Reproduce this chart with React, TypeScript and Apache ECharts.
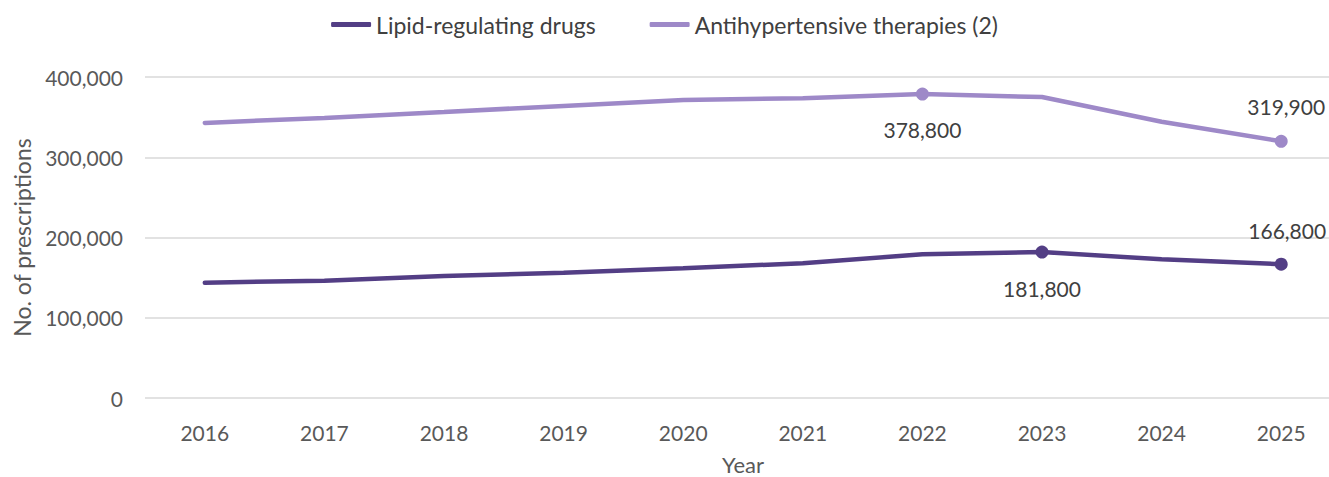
import React, { useEffect, useRef } from "react";
import * as echarts from "echarts";

// Years on the horizontal axis
const years = ["2016", "2017", "2018", "2019", "2020", "2021", "2022", "2023", "2024", "2025"];

// Number of prescriptions per year
const lipidRegulating = [143700, 146200, 152000, 156100, 161600, 168000, 179000, 181800, 172800, 166800];
const antihypertensive = [342800, 349000, 356400, 364000, 371300, 373500, 378800, 375000, 344300, 319900];

// Y-axis ticks
const yTicks = [0, 100000, 200000, 300000, 400000];

// Points that carry a marker and a value label: [index, position, distance, x shift]
const lipidLabelled: [number, string, number, number][] = [
  [7, "bottom", 19, 0],
  [9, "top", 17, 6],
];
const antiLabelled: [number, string, number, number][] = [
  [6, "bottom", 18, 0],
  [9, "top", 18, 5],
];

const FONT = "Lato, 'Open Sans', sans-serif";
const DARK = "#533e85";
const LIGHT = "#9e89c8";

const fmt = (v: number) => v.toLocaleString("en-US");

function buildData(values: number[], labelled: [number, string, number, number][]) {
  return values.map((v, i) => {
    const hit = labelled.find((l) => l[0] === i);
    if (!hit) return { value: v, symbol: "none" };
    return {
      value: v,
      symbol: "circle",
      symbolSize: 13,
      label: {
        show: true,
        position: hit[1],
        distance: hit[2],
        offset: [hit[3], 0],
        formatter: () => fmt(v),
        color: "#404040",
        fontSize: 21,
        fontFamily: FONT,
      },
    };
  });
}

export default function App() {
  const ref = useRef<HTMLDivElement>(null);

  useEffect(() => {
    if (!ref.current) return;
    const chart = echarts.init(ref.current, undefined, { renderer: "svg" });
    chart.setOption({
      animation: false,
      backgroundColor: "#ffffff",
      legend: {
        top: 8,
        left: "center",
        itemWidth: 40,
        itemHeight: 5,
        itemGap: 54,
        icon: "roundRect",
        textStyle: { color: "#404040", fontSize: 23, fontFamily: FONT },
        data: ["Lipid-regulating drugs", "Antihypertensive therapies (2)"],
      },
      grid: {
        left: 145,
        top: 77,
        width: 1196,
        height: 321,
        containLabel: false,
        outerBoundsMode: "none",
      },
      xAxis: {
        type: "category",
        data: years,
        boundaryGap: true,
        name: "Year",
        nameLocation: "middle",
        nameGap: 55,
        nameTextStyle: { color: "#595959", fontSize: 22, fontFamily: FONT },
        axisLine: { show: false },
        axisTick: { show: false },
        axisLabel: { color: "#595959", fontSize: 21, fontFamily: FONT, margin: 24 },
      },
      yAxis: {
        type: "value",
        min: yTicks[0],
        max: yTicks[yTicks.length - 1],
        interval: yTicks[1] - yTicks[0],
        name: "No. of prescriptions",
        nameLocation: "middle",
        nameGap: 112,
        nameTextStyle: { color: "#595959", fontSize: 23, fontFamily: FONT },
        axisLine: { show: false },
        axisTick: { show: false },
        axisLabel: {
          color: "#595959",
          fontSize: 21,
          fontFamily: FONT,
          margin: 22,
          formatter: (v: number) => fmt(v),
        },
        splitLine: { lineStyle: { color: "#d9d9d9", width: 1.5 } },
      },
      series: [
        {
          name: "Lipid-regulating drugs",
          type: "line",
          data: buildData(lipidRegulating, lipidLabelled),
          lineStyle: { color: DARK, width: 4.5, cap: "round" },
          itemStyle: { color: DARK },
          showSymbol: true,
          z: 3,
        },
        {
          name: "Antihypertensive therapies (2)",
          type: "line",
          data: buildData(antihypertensive, antiLabelled),
          lineStyle: { color: LIGHT, width: 4.5, cap: "round" },
          itemStyle: { color: LIGHT },
          showSymbol: true,
          z: 2,
        },
      ],
    });
    return () => chart.dispose();
  }, []);

  return (
    <div
      ref={ref}
      style={{ position: "fixed", left: 0, top: 0, width: 1329, height: 477, background: "#fff" }}
    />
  );
}
